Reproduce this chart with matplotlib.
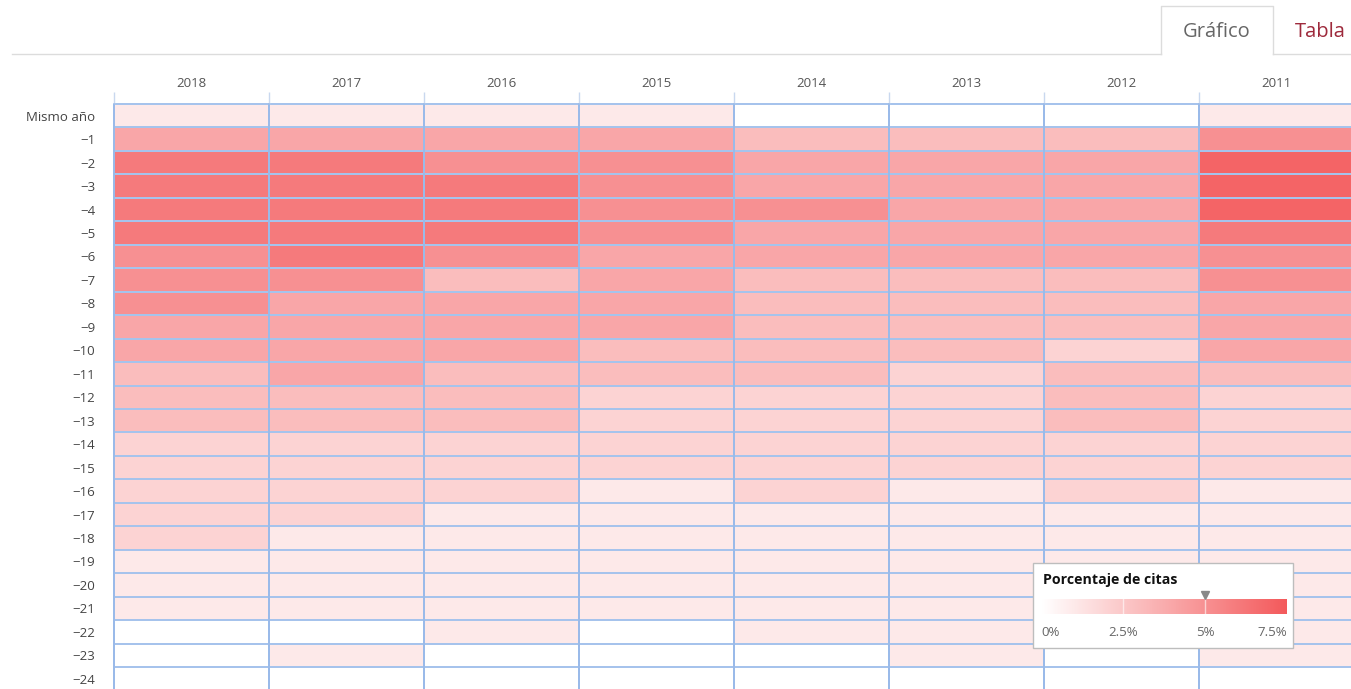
import numpy as np
import matplotlib
matplotlib.use("Agg")
import matplotlib.pyplot as plt
from matplotlib.colors import LinearSegmentedColormap
from matplotlib.patches import Rectangle
from matplotlib.lines import Line2D

plt.rcParams['font.family'] = ['Open Sans', 'DejaVu Sans']

# columns (citing year) and rows (age of the cited item)
years = ['2018', '2017', '2016', '2015', '2014', '2013', '2012', '2011']
row_labels = ['Mismo año'] + ['\u2212%d' % i for i in range(1, 25)]

# porcentaje de citas per row, one list per year
y2018 = [1, 4, 6, 6, 6, 6, 5, 5, 5, 4, 4, 3, 3, 3, 2, 2, 2, 2, 2, 1, 1, 1, 0, 0, 0]
y2017 = [1, 4, 6, 6, 6, 6, 6, 5, 4, 4, 4, 4, 3, 3, 2, 2, 2, 2, 1, 1, 1, 1, 0, 1, 0]
y2016 = [1, 4, 5, 6, 6, 6, 5, 3, 4, 4, 4, 3, 3, 3, 2, 2, 2, 1, 1, 1, 1, 1, 1, 0, 0]
y2015 = [1, 4, 5, 5, 5, 5, 4, 4, 4, 4, 3, 3, 2, 2, 2, 2, 1, 1, 1, 1, 1, 1, 0, 0, 0]
y2014 = [0, 3, 4, 4, 5, 4, 4, 3, 3, 3, 3, 3, 2, 2, 2, 2, 2, 1, 1, 1, 1, 1, 1, 0, 0]
y2013 = [0, 3, 4, 4, 4, 4, 4, 3, 3, 3, 3, 2, 2, 2, 2, 2, 1, 1, 1, 1, 1, 1, 1, 1, 0]
y2012 = [0, 3, 4, 4, 4, 4, 4, 3, 3, 3, 2, 3, 3, 3, 2, 2, 2, 1, 1, 1, 1, 1, 1, 0, 0]
y2011 = [1, 5, 7, 7, 7, 6, 5, 5, 4, 4, 4, 3, 2, 2, 2, 2, 1, 1, 1, 1, 1, 1, 1, 1, 0]

scale_ticks = [0, 2.5, 5, 7.5]
hovered_value = 5.0

W, H = 1351, 689

def fx(x):
    return x / W

def fy(y):
    return 1 - y / H

data = np.array([y2018, y2017, y2016, y2015, y2014, y2013, y2012, y2011], dtype=float).T
cmap = LinearSegmentedColormap.from_list('citas', ['#ffffff', '#f3595b'])

fig = plt.figure(figsize=(W / 100, H / 100), dpi=100)

# heatmap
ax = fig.add_axes([fx(114), fy(690.5), (1354 - 114) / W, 586.5 / H])
mesh = ax.pcolormesh(np.arange(len(years) + 1), np.arange(len(row_labels) + 1), data,
                     cmap=cmap, vmin=0, vmax=7.5, edgecolors='#a6c3ec', linewidth=1.1)
mesh.set_clip_on(False)
for xb in range(len(years) + 1):
    ax.axvline(xb, color='#98b9e9', lw=1.2, clip_on=False, zorder=3)
ax.set_xlim(0, len(years))
ax.set_ylim(len(row_labels), 0)
for s in ax.spines.values():
    s.set_visible(False)

ax.xaxis.tick_top()
ax.set_xticks(np.arange(len(years)) + 0.5)
ax.set_xticklabels(years)
ax.set_xticks(np.arange(len(years) + 1), minor=True)
ax.tick_params(axis='x', which='major', length=0, pad=10, labelsize=9.5, labelcolor='#555555')
ax.tick_params(axis='x', which='minor', length=8.5, width=1, color='#c9d8ef')

ax.set_yticks(np.arange(len(row_labels)) + 0.5)
ax.set_yticklabels(row_labels)
ax.tick_params(axis='y', length=0, pad=13.5, labelsize=9.5, labelcolor='#444444')

# tabs on top
tab_col = '#dcdcdc'
fig.add_artist(Line2D([fx(12), fx(1161)], [fy(54), fy(54)], color=tab_col, lw=1))
fig.add_artist(Line2D([fx(1273), fx(1351)], [fy(54), fy(54)], color=tab_col, lw=1))
fig.add_artist(Line2D([fx(1161), fx(1161), fx(1273), fx(1273)],
                      [fy(54), fy(6), fy(6), fy(54)], color=tab_col, lw=1))
fig.text(fx(1217), fy(32), 'Gráfico', ha='center', va='center', fontsize=14.5, color='#666666')
fig.text(fx(1295), fy(32), 'Tabla', ha='left', va='center', fontsize=14.5, color='#9e2a3c')

# legend box
box = Rectangle((fx(1033), fy(648)), (1293 - 1033) / W, (648 - 563) / H,
                transform=fig.transFigure, facecolor='white', edgecolor='#bdbdbd',
                lw=1, zorder=3)
fig.add_artist(box)
fig.text(fx(1043), fy(580), 'Porcentaje de citas', ha='left', va='center',
         fontsize=10.2, fontweight='bold', color='#111111', zorder=6)

cax = fig.add_axes([fx(1041), fy(614), (1287 - 1041) / W, 15 / H])
cax.set_zorder(5)
cb = fig.colorbar(mesh, cax=cax, orientation='horizontal')
cb.outline.set_visible(False)
cb.set_ticks(scale_ticks)
cb.set_ticklabels(['%g%%' % t for t in scale_ticks])
cax.tick_params(axis='x', length=0, pad=9, labelsize=9.5, labelcolor='#666666')
labels = cax.get_xticklabels()
labels[0].set_ha('left')
labels[-1].set_ha('right')
for t in scale_ticks[1:-1]:
    cax.axvline(t, color='white', lw=1, alpha=0.6)
cax.plot([hovered_value], [1.27], marker='v', markersize=6, color='#888888',
         transform=cax.get_xaxis_transform(), clip_on=False)

fig.savefig('out.png', dpi=100)
